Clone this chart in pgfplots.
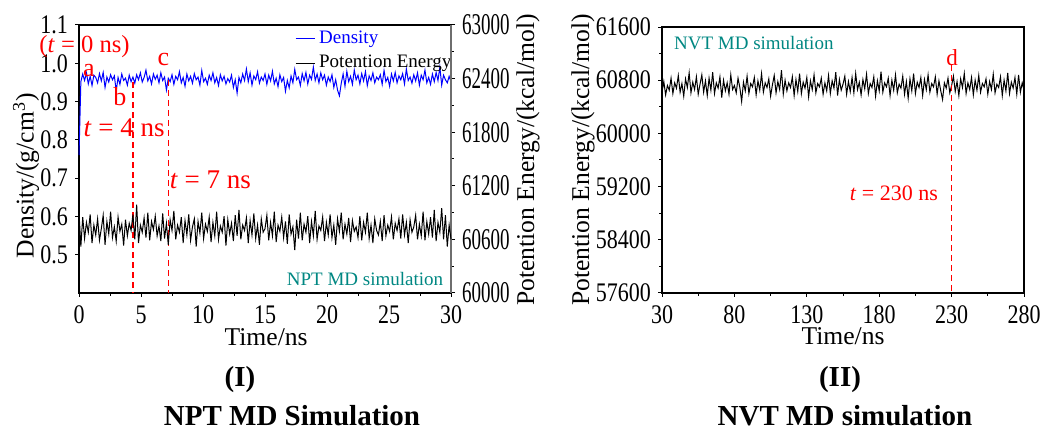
\documentclass[border=0pt]{standalone}
\usepackage{pgfplots}
\pgfplotsset{compat=1.18}
\usepackage{pgfplotstable}
\usepackage{fontspec}
\setmainfont{Liberation Serif}
\definecolor{tealtxt}{RGB}{0,135,130}
\definecolor{axgray}{RGB}{110,110,110}

% Density (g/cm3), t = 0 ... 30 ns, step 0.15 ns
\pgfplotstableread[row sep=\\]{dens\\0.760\\
0.952\\0.972\\0.955\\0.975\\0.946\\0.966\\0.942\\0.969\\0.963\\0.949\\
0.973\\0.954\\0.976\\0.937\\0.964\\0.951\\0.970\\0.957\\0.967\\0.928\\
0.963\\0.945\\0.972\\0.955\\0.961\\0.943\\0.969\\0.952\\0.964\\0.948\\
0.970\\0.957\\0.975\\0.951\\0.963\\0.982\\0.954\\0.966\\0.946\\0.972\\
0.958\\0.969\\0.949\\0.975\\0.955\\0.964\\0.930\\0.961\\0.952\\0.970\\
0.945\\0.966\\0.957\\0.978\\0.949\\0.963\\0.940\\0.972\\0.954\\0.966\\
0.948\\0.973\\0.957\\0.964\\0.943\\0.981\\0.952\\0.961\\0.945\\0.969\\
0.955\\0.975\\0.949\\0.963\\0.942\\0.970\\0.954\\0.966\\0.946\\0.960\\
0.951\\0.969\\0.937\\0.957\\0.922\\0.963\\0.949\\0.972\\0.955\\0.985\\
0.952\\0.975\\0.943\\0.967\\0.957\\0.978\\0.948\\0.964\\0.955\\0.972\\
0.945\\0.969\\0.954\\0.979\\0.946\\0.961\\0.939\\0.970\\0.952\\0.963\\
0.927\\0.955\\0.936\\0.967\\0.949\\0.984\\0.957\\0.964\\0.942\\0.973\\
0.954\\0.976\\0.946\\0.969\\0.958\\0.990\\0.955\\0.972\\0.949\\0.975\\
0.957\\0.969\\0.943\\0.964\\0.952\\0.970\\0.937\\0.957\\0.930\\0.915\\
0.948\\0.972\\0.940\\0.979\\0.952\\0.966\\0.945\\0.982\\0.957\\0.969\\
0.946\\0.973\\0.954\\0.978\\0.942\\0.967\\0.955\\0.975\\0.949\\0.964\\
0.957\\0.970\\0.945\\0.981\\0.952\\0.963\\0.940\\0.972\\0.954\\0.976\\
0.949\\0.967\\0.957\\0.973\\0.946\\0.985\\0.955\\0.964\\0.948\\0.970\\
0.954\\0.975\\0.943\\0.969\\0.957\\0.982\\0.949\\0.963\\0.945\\0.972\\
0.952\\0.976\\0.955\\0.990\\0.943\\0.969\\0.957\\0.949\\0.966\\0.952\\
}\densdata

% Potential energy (kcal/mol), NPT, t = 0 ... 30 ns, step 0.15 ns
\pgfplotstableread[row sep=\\]{energy\\60900\\
60520\\60850\\60610\\60790\\60680\\60880\\60560\\60760\\60650\\60830\\
60590\\60720\\60870\\60540\\60800\\60660\\60910\\60620\\60740\\60580\\
60850\\60690\\60770\\60530\\60820\\60640\\60780\\60700\\60880\\60600\\
60990\\60560\\60760\\60680\\60840\\60620\\60900\\60590\\60800\\60710\\
60860\\60640\\60750\\60580\\60890\\60610\\60780\\60540\\60820\\60700\\
60920\\60600\\60760\\60680\\60850\\60560\\60810\\60650\\60880\\60590\\
60740\\60830\\60520\\60800\\60670\\60900\\60610\\60770\\60690\\60850\\
60570\\60790\\60640\\60910\\60600\\60750\\60680\\60860\\60530\\60820\\
60660\\60780\\60580\\60870\\60640\\60930\\60600\\60760\\60700\\60840\\
60560\\60810\\60650\\60890\\60610\\60760\\60540\\60830\\60680\\60720\\
60870\\60590\\60790\\60640\\60910\\60570\\60760\\60690\\60850\\60620\\
60800\\60550\\60880\\60660\\60740\\60480\\60820\\60610\\60900\\60590\\
60770\\60680\\60860\\60560\\60800\\60640\\60920\\60600\\60750\\60700\\
60850\\60580\\60790\\60650\\60880\\60620\\60760\\60540\\60830\\60690\\
60900\\60600\\60770\\60660\\60840\\60570\\60810\\60690\\60740\\60620\\
60860\\60590\\60790\\60680\\60900\\60610\\60760\\60560\\60830\\60700\\
60650\\60800\\60580\\60870\\60640\\60760\\60690\\60850\\60600\\60780\\
60700\\60830\\60610\\60880\\60650\\60790\\60560\\60820\\60680\\60740\\
60870\\60600\\60770\\60640\\60910\\60590\\60800\\60660\\60850\\60620\\
60930\\60580\\60790\\60680\\60950\\60600\\60870\\60520\\60760\\60600\\
}\eleft

% Potential energy (kcal/mol), NVT, t = 30 ... 280 ns, step 1.25 ns
\pgfplotstableread[row sep=\\]{energy\\60620\\
60780\\60580\\60720\\60650\\60830\\60600\\60760\\60680\\60870\\60620\\
60750\\60560\\60820\\60690\\60910\\60610\\60770\\60660\\60850\\60590\\
60740\\60880\\60620\\60790\\60570\\60830\\60650\\60920\\60600\\60760\\
60680\\60850\\60540\\60800\\60640\\60760\\60590\\60880\\60660\\60720\\
60610\\60830\\60690\\60480\\60770\\60640\\60860\\60600\\60750\\60700\\
60840\\60580\\60790\\60650\\60900\\60620\\60760\\60690\\60820\\60560\\
60730\\60870\\60610\\60780\\60660\\60950\\60590\\60800\\60640\\60760\\
60690\\60850\\60570\\60810\\60630\\60900\\60600\\60770\\60680\\60840\\
60550\\60790\\60660\\60880\\60610\\60750\\60700\\60830\\60590\\60760\\
60640\\60870\\60600\\60790\\60680\\60920\\60570\\60810\\60650\\60740\\
60860\\60590\\60780\\60630\\60840\\60610\\60900\\60660\\60770\\60580\\
60810\\60670\\60890\\60600\\60750\\60690\\60850\\60560\\60790\\60640\\
60930\\60620\\60760\\60700\\60830\\60570\\60800\\60650\\60880\\60610\\
60740\\60680\\60860\\60590\\60780\\60530\\60820\\60640\\60900\\60600\\
60770\\60690\\60840\\60570\\60810\\60660\\60880\\60620\\60750\\60700\\
60850\\60590\\60790\\60640\\60510\\60760\\60680\\60830\\60610\\60720\\
60860\\60630\\60780\\60570\\60820\\60690\\60900\\60600\\60760\\60660\\
60840\\60580\\60800\\60650\\60870\\60620\\60750\\60700\\60820\\60590\\
60780\\60660\\60890\\60610\\60740\\60690\\60850\\60570\\60800\\60640\\
60910\\60600\\60770\\60680\\60840\\60590\\60880\\60620\\60760\\60650\\
}\eright

\tikzset{dashred/.style={red, dash pattern=on 3pt off 2pt, line width=0.7pt}}

\pgfplotsset{
  mystyle/.style={
    scale only axis, anchor=south west, clip=false,
    scaled ticks=false,
    /pgf/number format/assume math mode=true,
    /pgf/number format/1000 sep={},
    /pgf/number format/fixed,
    tick label style={font=\fontsize{11}{12}\selectfont, yscale=1.22},
    label style={font=\fontsize{12.8}{14}\selectfont},
    major tick length=2pt, minor tick length=1.3pt,
    tick align=outside, axis line style={line width=0.6pt},
    every tick/.style={black, line width=0.5pt},
  },
}

\begin{document}
\begin{tikzpicture}
\path[use as bounding box] (0pt,0pt) rectangle (523.5pt,216pt);

% ---------- (I) NPT, density axis ----------
\begin{axis}[mystyle, at={(39.5pt,69.5pt)}, width=186pt, height=134pt,
  xmin=0, xmax=30, ymin=0.4, ymax=1.1,
  xtick={0,5,10,15,20,25,30}, minor x tick num=1,
  ytick={0.5,0.6,0.7,0.8,0.9,1.0,1.1},
  xtick pos=bottom, ytick pos=left,
  yticklabel style={/pgf/number format/fixed, /pgf/number format/fixed zerofill, /pgf/number format/precision=1},
  xlabel={Time/ns}, ylabel={Density/(g/cm\textsuperscript{3})},
  xlabel style={at={(axis description cs:0.503,-0.164)}, anchor=center},
  ylabel style={at={(axis description cs:-0.142,0.437)}, anchor=center},
  legend style={at={(axis description cs:0.58,0.995)}, anchor=north west, draw=none, fill=none,
    font=\fontsize{9.5}{11}\selectfont, row sep=0.5pt, inner sep=0pt},
  legend cell align=left,
  legend image code/.code={\draw[#1] (0pt,0pt) -- (9.5pt,0pt);},
]
\addplot[blue, line width=0.5pt] table[x expr=\coordindex*0.15, y index=0]{\densdata};
\addlegendentry{\textcolor{blue}{Density}}
\addlegendimage{black, line width=0.5pt}
\addlegendentry{Potention Energy}

\draw[dashred] (axis cs:4.35,0.951) -- (axis cs:4.35,0.4);
\draw[dashred] (axis cs:7.2,0.956) -- (axis cs:7.2,0.4);
\node[red, font=\fontsize{12.3}{13}\selectfont] at (axis cs:0.45,1.043) {(\textit{t} = 0 ns)};
\node[red, font=\fontsize{13}{14}\selectfont] at (axis cs:0.8,0.982) {a};
\node[red, font=\fontsize{13}{14}\selectfont] at (axis cs:3.3,0.912) {b};
\node[red, font=\fontsize{13}{14}\selectfont] at (axis cs:6.8,1.009) {c};
\node[red, font=\fontsize{13.5}{14}\selectfont] at (axis cs:3.63,0.831) {\textit{t} = 4 ns};
\node[red, font=\fontsize{13.5}{14}\selectfont] at (axis cs:10.6,0.695) {\textit{t} = 7 ns};
\node[tealtxt, font=\fontsize{9.5}{11}\selectfont] at (axis description cs:0.769,0.052) {NPT MD simulation};
\end{axis}

% ---------- (I) NPT, energy axis ----------
\begin{axis}[mystyle, at={(39.5pt,69.5pt)}, width=186pt, height=134pt,
  xmin=0, xmax=30, ymin=60000, ymax=63000,
  axis x line=none, axis y line*=right,
  y axis line style={-, axgray, line width=0.6pt},
  ytick={60000,60600,61200,61800,62400,63000}, minor y tick num=1,
  yticklabel style={font=\fontsize{9.5}{11}\selectfont, yscale=1.3},
  ylabel={Potention Energy/(kcal/mol)},
  ylabel style={at={(axis description cs:1.207,0.496)}, anchor=center, rotate=0},
]
\addplot[black, line width=0.5pt] table[x expr=\coordindex*0.15, y index=0]{\eleft};
\end{axis}

% ---------- (II) NVT ----------
\begin{axis}[mystyle, at={(331pt,69.5pt)}, width=181pt, height=133pt,
  xmin=30, xmax=280, ymin=57600, ymax=61600,
  xtick={30,80,130,180,230,280}, minor x tick num=1,
  ytick={57600,58400,59200,60000,60800,61600}, minor y tick num=1,
  xtick pos=bottom, ytick pos=left,
  xlabel={Time/ns}, ylabel={Potention Energy/(kcal/mol)},
  xlabel style={at={(axis description cs:0.5,-0.164)}, anchor=center},
  ylabel style={at={(axis description cs:-0.218,0.5)}, anchor=center},
]
\addplot[black, line width=0.5pt] table[x expr=30+\coordindex*1.25, y index=0]{\eright};
\draw[dashred] (axis cs:230,61029) -- (axis cs:230,57600);
\node[red, font=\fontsize{11.5}{12}\selectfont] at (axis cs:230.3,61134) {d};
\node[red, anchor=east, font=\fontsize{11}{12}\selectfont] at (axis cs:225.4,59103) {\textit{t} = 230 ns};
\node[tealtxt, anchor=west, font=\fontsize{9.5}{11}\selectfont] at (axis description cs:0.014,0.94) {NVT MD simulation};
\end{axis}

% ---------- captions ----------
\node[font=\bfseries\fontsize{14.5}{15}\selectfont] at (120pt,26pt) {(I)};
\node[font=\bfseries\fontsize{14.5}{15}\selectfont] at (146pt,8pt) {NPT MD Simulation};
\node[font=\bfseries\fontsize{14.5}{15}\selectfont] at (420pt,26pt) {(II)};
\node[font=\bfseries\fontsize{14.5}{15}\selectfont] at (422.5pt,8pt) {NVT MD simulation};
\end{tikzpicture}
\end{document}
